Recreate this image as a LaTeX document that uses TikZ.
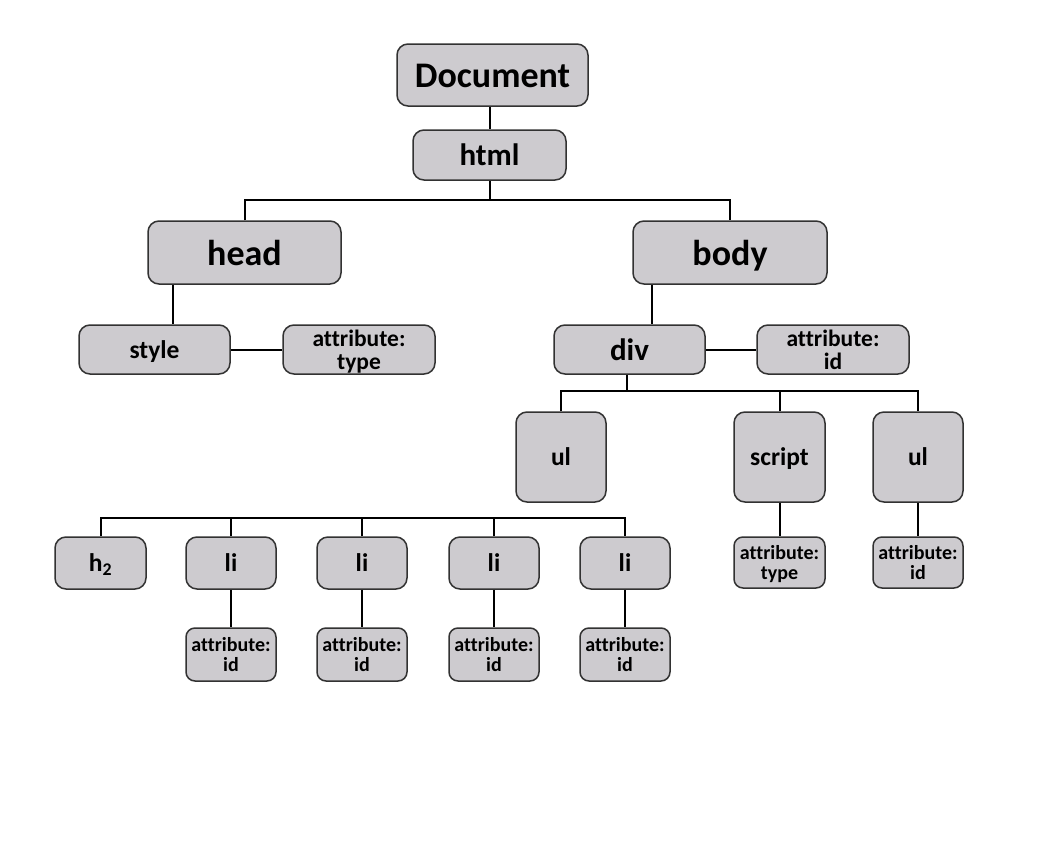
\documentclass[tikz,border=0pt]{standalone}
\usepackage{fontspec}
\setmainfont{Carlito}[Ligatures=NoCommon]
\definecolor{boxc}{RGB}{205,203,207}
\definecolor{bordc}{RGB}{50,50,50}
\begin{document}
\begin{tikzpicture}[x=1pt,y=-1pt,
  box/.style={draw=bordc, fill=boxc, line width=1.5pt, rounded corners=11pt, align=center, inner sep=0pt, text depth=0pt, font=\bfseries},
  big/.style={box, text height=25pt, font=\fontsize{36}{36}\selectfont\bfseries},
  mid/.style={box, text height=21.5pt, font=\fontsize{31}{31}\selectfont\bfseries},
  sml/.style={box, text height=17.5pt, font=\fontsize{25.5}{25.5}\selectfont\bfseries},
  attr/.style={box, font=\fontsize{23.5}{23}\selectfont\bfseries},
  tiny/.style={box, rounded corners=9pt, font=\fontsize{20}{20}\selectfont\bfseries},
  link/.style={draw=black, line width=2pt}]
\useasboundingbox[fill=white] (0,0) rectangle (1041,862);
% level 0-1
\node[big, minimum width=191pt, minimum height=62pt] (doc) at (492.5,75) {Document};
\node[mid, minimum width=153pt, minimum height=50pt] (html) at (489.5,155) {html};
\node[big, minimum width=193pt, minimum height=63pt] (head) at (244.5,252.5) {head};
\node[big, minimum width=194pt, minimum height=63pt] (body) at (730,252.5) {body};
% level 2
\node[sml, minimum width=151pt, minimum height=49pt] (style) at (154.5,349.5) {style};
\node[attr, minimum width=152pt, minimum height=49pt] (atype1) at (359,349.5) {attribute:\\type};
\node[mid, minimum width=151pt, minimum height=49pt] (div) at (629.5,349.5) {div};
\node[attr, minimum width=152pt, minimum height=49pt] (aid1) at (833,349.5) {attribute:\\id};
% level 3
\node[sml, minimum width=90pt, minimum height=90pt] (ul1) at (561,457) {ul};
\node[sml, minimum width=91pt, minimum height=90pt] (script) at (779.5,457) {script};
\node[sml, minimum width=90pt, minimum height=90pt] (ul2) at (918,457) {ul};
\node[tiny, minimum width=91pt, minimum height=51pt] (atype2) at (779.5,562.5) {attribute:\\type};
\node[tiny, minimum width=90pt, minimum height=51pt] (aid2) at (918,562.5) {attribute:\\id};
% level 4
\node[sml, minimum width=91pt, minimum height=52pt] (h2) at (100.5,563) {h\textsubscript{2}};
\foreach \i/\x in {1/231,2/362,3/494,4/625}{
  \node[sml, minimum width=90pt, minimum height=52pt] (li\i) at (\x,563) {li};
  \node[tiny, minimum width=90pt, minimum height=53pt] (ali\i) at (\x,654.5) {attribute:\\id};
}
% helper coordinates
\coordinate (hb) at (490,200);
\coordinate (xs) at (173,0);
\coordinate (xd) at (652,0);
\coordinate (dc) at (627,391);
\coordinate (lb) at (0,518);
% connectors
\draw[link] (doc.south -| hb) -- (html.north -| hb);
\draw[link] (html.south -| hb) -- (hb);
\draw[link] (head.north) |- (hb) -| (body.north);
\draw[link] (head.south -| xs) -- (style.north -| xs);
\draw[link] (style) -- (atype1);
\draw[link] (body.south -| xd) -- (div.north -| xd);
\draw[link] (div) -- (aid1);
\draw[link] (div.south -| dc) -- (dc);
\draw[link] (ul1.north) |- (dc) -| (ul2.north);
\draw[link] (script.north) -- (script.north |- dc);
\draw[link] (script) -- (atype2);
\draw[link] (ul2) -- (aid2);
\draw[link] (h2.north) |- (lb -| li4.north) -- (li4.north);
\foreach \i in {1,2,3}{
  \draw[link] (li\i.north) -- (li\i.north |- lb);
}
\foreach \i in {1,2,3,4}{
  \draw[link] (li\i) -- (ali\i);
}
\end{tikzpicture}
\end{document}
